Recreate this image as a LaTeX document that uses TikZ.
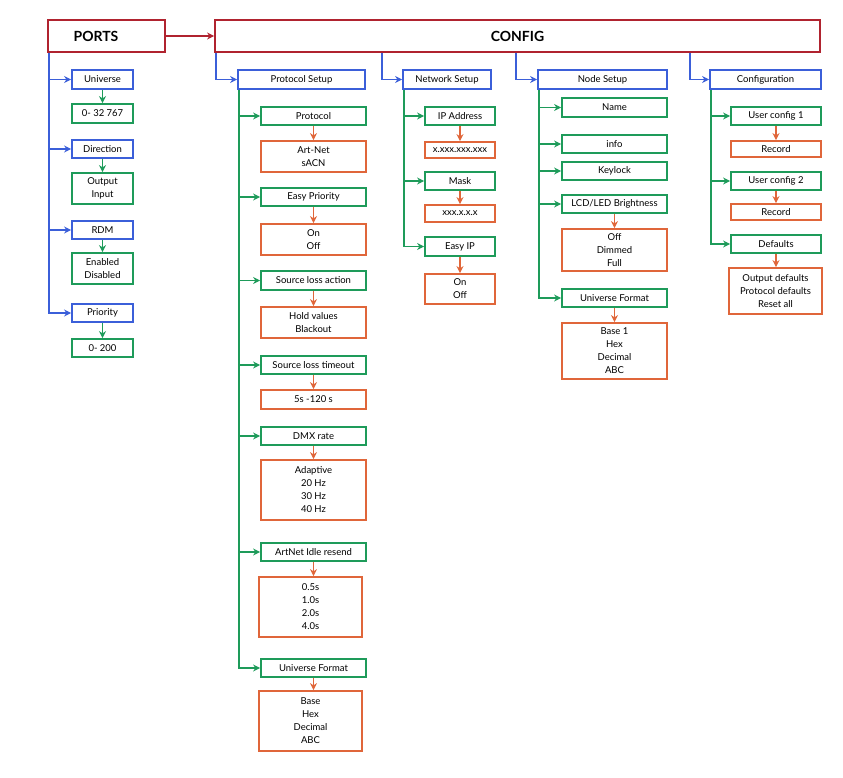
\documentclass[tikz,border=0pt]{standalone}
\usepackage{fontspec}
\setmainfont{Lato}
\usetikzlibrary{arrows.meta}
\definecolor{cred}{HTML}{B0232F}
\definecolor{cblue}{HTML}{3B5FD9}
\definecolor{cgreen}{HTML}{1E9B5A}
\definecolor{corange}{HTML}{E0663A}
\tikzset{
  box/.style={draw, line width=1.8pt, align=center, inner sep=0pt, font=\fontsize{9.5}{13}\selectfont},
  tip/.style={line width=1.6pt, -{Stealth[length=7pt,width=7pt]}},
}
% colour, name, x1, y1, x2, y2, text
\newcommand\bx[7]{\node[box, draw=#1, minimum width={#5-#3}, minimum height={#6-#4}] (#2) at ({(#3+#5)/2},{(#4+#6)/2}) {#7};}

\begin{document}
\begin{tikzpicture}[x=1pt,y=-1pt]
\useasboundingbox (0,0) rectangle (843,778);
\bx{cred}{ports}{48}{20}{165}{52}{}
\node[font=\bfseries\fontsize{14}{16}\selectfont] (portsl) at (96,36) {PORTS};
\bx{cred}{cfg}{215}{20}{820}{52}{\bfseries\fontsize{14}{16}\selectfont CONFIG}
\draw[tip, cred, line width=2pt] (ports) -- (cfg);

% ports
\bx{cblue}{uni}{72}{70}{133}{89}{Universe}
\bx{cgreen}{univ}{72}{104}{133}{123}{0- 32 767}
\bx{cblue}{dir}{72}{140}{133}{158}{Direction}
\bx{cgreen}{dirv}{72}{173}{133}{204}{Output\\Input}
\bx{cblue}{rdm}{72}{221}{133}{239}{RDM}
\bx{cgreen}{rdmv}{72}{253}{133}{284}{Enabled\\Disabled}
\bx{cblue}{prio}{72}{304}{133}{322}{Priority}
\bx{cgreen}{priov}{72}{339}{133}{357}{0- 200}
\foreach \n in {uni,dir,rdm,prio}
  \draw[tip, cblue] ([xshift=2pt]ports.south west) |- (\n);
\foreach \a/\b in {uni/univ,dir/dirv,rdm/rdmv,prio/priov}
  \draw[tip, cgreen] (\a) -- (\b);

% config level 1
\bx{cblue}{ps}{238}{70}{365}{89}{Protocol Setup}
\bx{cblue}{ns}{403}{70}{491}{89}{Network Setup}
\bx{cblue}{nd}{538}{70}{667}{89}{Node Setup}
\bx{cblue}{cf}{710}{70}{821}{89}{Configuration}
\draw[tip, cblue] ([xshift=2pt]cfg.south west) |- (ps);
\draw[tip, cblue] (cfg.south -| 382,0) |- (ns);
\draw[tip, cblue] (cfg.south -| 516,0) |- (nd);
\draw[tip, cblue] (cfg.south -| 690,0) |- (cf);

% protocol setup
\bx{cgreen}{pr}{261}{107}{366}{125}{Protocol}
\bx{corange}{prv}{261}{141}{366}{172}{Art-Net\\sACN}
\bx{cgreen}{ep}{261}{188}{366}{206}{Easy Priority}
\bx{corange}{epv}{261}{224}{366}{255}{On\\Off}
\bx{cgreen}{sla}{261}{271}{366}{290}{Source loss action}
\bx{corange}{slav}{261}{307}{366}{338}{Hold values\\Blackout}
\bx{cgreen}{slt}{261}{356}{366}{374}{Source loss timeout}
\bx{corange}{sltv}{261}{390}{366}{409}{5s -120 s}
\bx{cgreen}{dmx}{261}{427}{366}{445}{DMX rate}
\bx{corange}{dmxv}{261}{460}{366}{520}{Adaptive\\20 Hz\\30 Hz\\40 Hz}
\bx{cgreen}{air}{261}{543}{366}{561}{ArtNet Idle resend}
\bx{corange}{airv}{259}{577}{362}{637}{0.5s\\1.0s\\2.0s\\4.0s}
\bx{cgreen}{uf}{261}{659}{366}{677}{Universe Format}
\bx{corange}{ufv}{259}{691}{362}{751}{Base\\Hex\\Decimal\\ABC}
\foreach \n in {pr,ep,sla,slt,dmx,air,uf}
  \draw[tip, cgreen] ([xshift=2pt]ps.south west) |- (\n);
\foreach \a/\b in {pr/prv,ep/epv,sla/slav,slt/sltv,dmx/dmxv,air/airv,uf/ufv}
  \draw[tip, corange] (\a) -- (\a.south |- \b.north);

% network setup
\bx{cgreen}{ip}{425}{107}{495}{125}{IP Address}
\bx{corange}{ipv}{425}{142}{495}{158}{x.xxx.xxx.xxx}
\bx{cgreen}{mask}{425}{172}{495}{190}{Mask}
\bx{corange}{maskv}{425}{205}{495}{222}{xxx.x.x.x}
\bx{cgreen}{eip}{425}{237}{495}{256}{Easy IP}
\bx{corange}{eipv}{425}{274}{495}{304}{On\\Off}
\foreach \n in {ip,mask,eip}
  \draw[tip, cgreen] ([xshift=2pt]ns.south west) |- (\n);
\foreach \a/\b in {ip/ipv,mask/maskv,eip/eipv}
  \draw[tip, corange] (\a) -- (\b);

% node setup
\bx{cgreen}{name}{562}{98}{667}{117}{Name}
\bx{cgreen}{info}{562}{135}{667}{153}{info}
\bx{cgreen}{kl}{562}{162}{667}{180}{Keylock}
\bx{cgreen}{lcd}{562}{195}{667}{213}{LCD/LED Brightness}
\bx{corange}{lcdv}{562}{229}{667}{271}{Off\\Dimmed\\Full}
\bx{cgreen}{nuf}{562}{289}{667}{307}{Universe Format}
\bx{corange}{nufv}{562}{323}{667}{379}{Base 1\\Hex\\Decimal\\ABC}
\foreach \n in {name,info,kl,lcd,nuf}
  \draw[tip, cgreen] ([xshift=2pt]nd.south west) |- (\n);
\foreach \a/\b in {lcd/lcdv,nuf/nufv}
  \draw[tip, corange] (\a) -- (\b);

% configuration
\bx{cgreen}{uc1}{731}{107}{821}{125}{User config 1}
\bx{corange}{uc1v}{731}{141}{821}{157}{Record}
\bx{cgreen}{uc2}{731}{172}{821}{190}{User config 2}
\bx{corange}{uc2v}{731}{204}{821}{220}{Record}
\bx{cgreen}{def}{731}{235}{821}{253}{Defaults}
\bx{corange}{defv}{729}{268}{822}{314}{Output defaults\\Protocol defaults\\Reset all}
\foreach \n in {uc1,uc2,def}
  \draw[tip, cgreen] ([xshift=2pt]cf.south west) |- (\n);
\foreach \a/\b in {uc1/uc1v,uc2/uc2v,def/defv}
  \draw[tip, corange] (\a) -- (\a.south |- \b.north);
\end{tikzpicture}
\end{document}
